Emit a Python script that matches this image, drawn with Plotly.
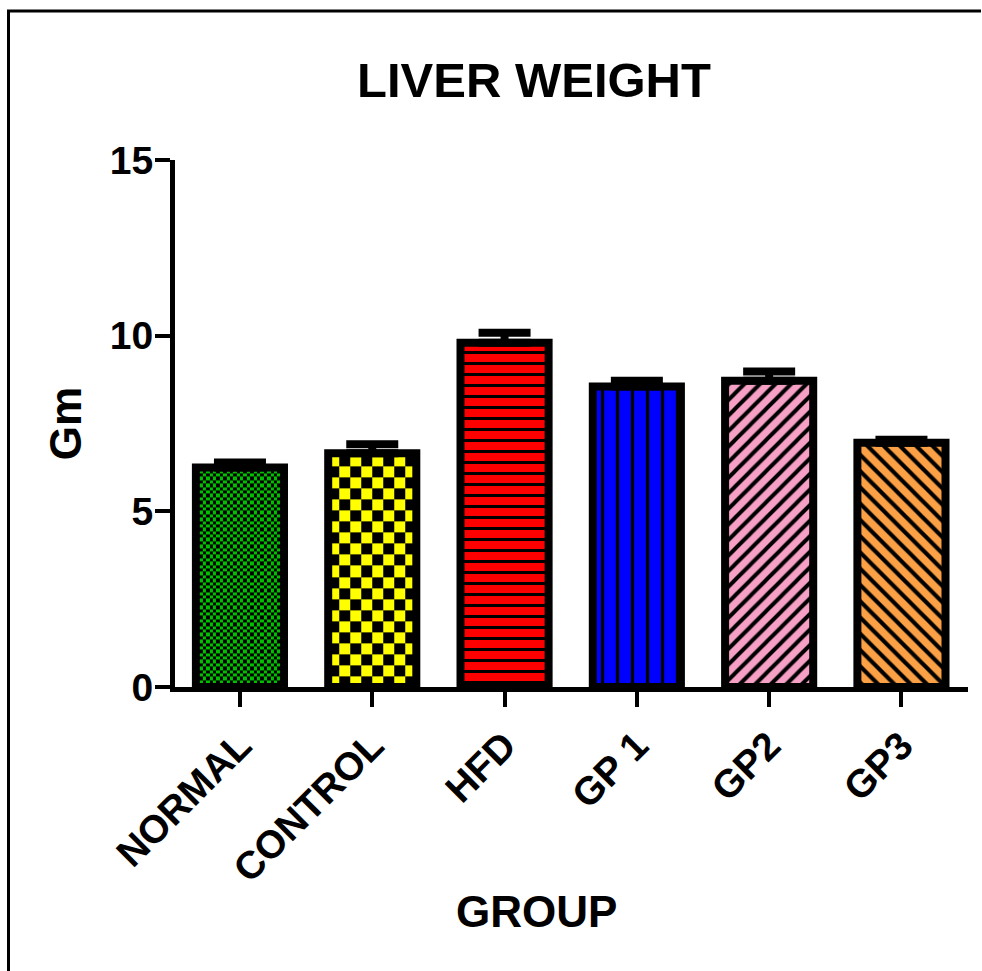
import numpy as np
import plotly.graph_objects as go

# Liver weight per group (mean and SEM, grams)
groups = ["NORMAL", "CONTROL", "HFD", "GP 1", "GP2", "GP3"]
means = [6.25, 6.65, 9.8, 8.55, 8.72, 6.95]
sems = [0.14, 0.26, 0.28, 0.17, 0.26, 0.09]
y_ticks = [0, 5, 10, 15]

# Styling
FONT = "Arial, 'Liberation Sans', sans-serif"
fill_colors = ["#00C000", "#FFFF00", "#FF0000", "#0000FF", "#F7A0C6", "#FBA044"]
pattern_shapes = ["", "", "-", "|", "/", "\\"]
pattern_sizes = [8, 8, 11, 15, 11, 11.5]
pattern_solidity = [0.3, 0.3, 0.27, 0.22, 0.36, 0.36]
checker_cols = {0: 26, 1: 8}  # bars filled with a checkerboard

W, H = 982, 971
ML, MR, MT, MB = 175, 14, 160, 284
X_RANGE = [-0.491, 5.503]
Y_RANGE = [0, 15]
BAR_WIDTH = 0.666

PW, PH = W - ML - MR, H - MT - MB
px_per_x = PW / (X_RANGE[1] - X_RANGE[0])
px_per_y = PH / (Y_RANGE[1] - Y_RANGE[0])

fig = go.Figure()

# Checkerboard fills drawn as heatmaps underneath their bar outlines
for i, ncols in checker_cols.items():
    cell = BAR_WIDTH / ncols
    cell_y = cell * px_per_x / px_per_y
    xe = i - BAR_WIDTH / 2 + cell * np.arange(ncols + 1)
    ye = np.arange(0, means[i], cell_y)
    ye = np.append(ye, means[i])
    z = [[(r + c) % 2 for c in range(ncols)] for r in range(len(ye) - 1)]
    fig.add_trace(go.Heatmap(
        x=xe, y=ye, z=z, zmin=0, zmax=1,
        colorscale=[[0, fill_colors[i]], [1, "#000000"]],
        showscale=False, hoverinfo="skip", zsmooth=False,
    ))

# One bar trace per group so each keeps its own fill and hatch colours
for i, name in enumerate(groups):
    color = "rgba(0,0,0,0)" if i in checker_cols else fill_colors[i]
    pattern = dict(shape=pattern_shapes[i])
    if pattern_shapes[i]:
        pattern.update(size=pattern_sizes[i], solidity=pattern_solidity[i],
                       fillmode="replace", bgcolor=color,
                       fgcolor="#000000", fgopacity=1)
    fig.add_trace(go.Bar(
        x=[i], y=[means[i]], name=name,
        width=BAR_WIDTH,
        marker=dict(color=color, line=dict(color="black", width=8),
                    pattern=pattern),
        error_y=dict(
            type="data", array=[sems[i]], arrayminus=[0], symmetric=False,
            color="black", thickness=8, width=26,
        ),
        showlegend=False,
    ))

fig.update_layout(
    width=W, height=H,
    barmode="overlay",
    margin=dict(l=ML, r=MR, t=MT, b=MB, pad=0),
    paper_bgcolor="white", plot_bgcolor="white",
    font=dict(family=FONT, color="black"),
    showlegend=False,
    title=dict(
        text="LIVER WEIGHT", x=534 / W, xref="container", xanchor="center",
        y=1 - 80 / H, yref="container", yanchor="middle",
        font=dict(family=FONT, size=49, weight="bold", color="black"),
    ),
    xaxis=dict(
        type="linear", range=X_RANGE,
        tickvals=list(range(len(groups))), ticktext=groups, tickangle=-45,
        ticks="outside", ticklen=15, tickwidth=4, tickcolor="black",
        showline=True, linewidth=5, linecolor="black",
        showgrid=False, zeroline=False,
        tickfont=dict(family=FONT, size=39, weight="bold", color="black"),
    ),
    yaxis=dict(
        range=Y_RANGE, tickvals=y_ticks,
        ticks="outside", ticklen=15, tickwidth=4, tickcolor="black",
        ticklabelstandoff=-6,
        showline=True, linewidth=5, linecolor="black",
        showgrid=False, zeroline=False,
        tickfont=dict(family=FONT, size=39, weight="bold", color="black"),
        title=dict(text="Gm", standoff=16,
                   font=dict(family=FONT, size=44, weight="bold", color="black")),
    ),
    annotations=[dict(
        text="GROUP", xref="paper", yref="paper",
        x=(536 - ML) / PW, y=-(911 - (H - MB)) / PH,
        xanchor="center", yanchor="middle", showarrow=False,
        font=dict(family=FONT, size=44, weight="bold", color="black"),
    )],
)

# Outer frame (top and left edges), drawn as one open path
fx = (8.5 - ML) / PW
fy = ((H - MB) - 11) / PH
fig.add_shape(type="path", xref="paper", yref="paper",
              path=f"M {(W - ML - 1) / PW} {fy} L {fx} {fy} L {fx} {-(H - MB - 1) / PH}",
              line=dict(color="black", width=3))

fig.write_html("out.html", config={"displayModeBar": False})
